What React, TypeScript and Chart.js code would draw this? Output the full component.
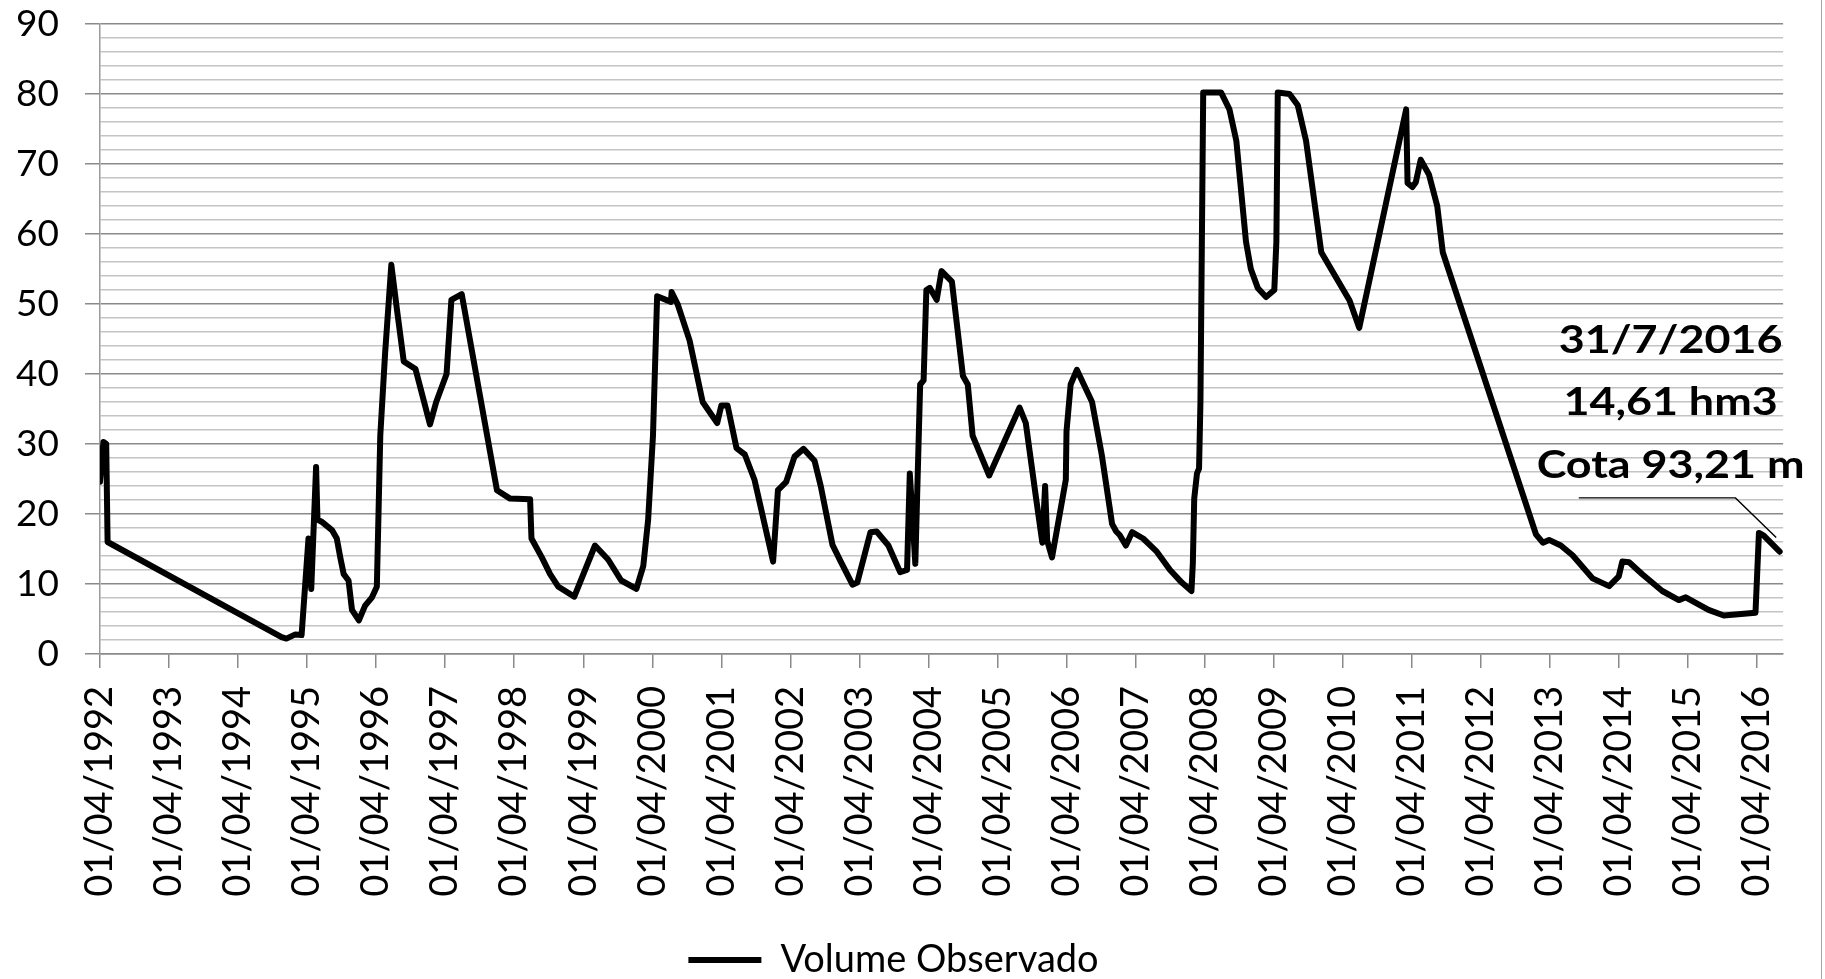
import { useEffect, useRef } from 'react'
import { Chart, registerables } from 'chart.js'

Chart.register(...registerables)

// observation time as decimal year, volume in hm3
const OBS_TIME = [
  1992.25, 1992.3, 1992.34, 1992.36, 1994.88, 1994.95, 1995.08, 1995.17, 1995.27, 1995.31,
  1995.34, 1995.38, 1995.4, 1995.46, 1995.61, 1995.68, 1995.73, 1995.78, 1995.85, 1995.9,
  1996.0, 1996.09, 1996.19, 1996.26, 1996.31, 1996.38, 1996.47, 1996.55, 1996.65, 1996.82,
  1997.03, 1997.12, 1997.27, 1997.34, 1997.49, 1998.0, 1998.19, 1998.48, 1998.5, 1998.65,
  1998.77, 1998.89, 1999.12, 1999.42, 1999.61, 1999.8, 2000.02, 2000.12, 2000.19, 2000.26,
  2000.32, 2000.52, 2000.53, 2000.62, 2000.79, 2000.98, 2001.19, 2001.25, 2001.34, 2001.47,
  2001.59, 2001.73, 2002.0, 2002.07, 2002.19, 2002.31, 2002.44, 2002.6, 2002.69, 2002.86,
  2002.98, 2003.15, 2003.22, 2003.41, 2003.5, 2003.67, 2003.84, 2003.94, 2003.98, 2004.06,
  2004.13, 2004.18, 2004.22, 2004.27, 2004.37, 2004.44, 2004.59, 2004.75, 2004.82, 2004.89,
  2005.13, 2005.57, 2005.66, 2005.81, 2005.9, 2005.94, 2005.97, 2006.04, 2006.24, 2006.25,
  2006.31, 2006.4, 2006.62, 2006.76, 2006.91, 2006.97, 2007.02, 2007.11, 2007.2, 2007.36,
  2007.55, 2007.75, 2007.92, 2008.06, 2008.08, 2008.1, 2008.14, 2008.17, 2008.19, 2008.23,
  2008.49, 2008.61, 2008.71, 2008.85, 2008.92, 2009.02, 2009.14, 2009.26, 2009.29, 2009.31,
  2009.48, 2009.6, 2009.72, 2009.94, 2010.35, 2010.49, 2011.17, 2011.19, 2011.26, 2011.31,
  2011.38, 2011.5, 2011.62, 2011.7, 2013.05, 2013.15, 2013.24, 2013.41, 2013.58, 2013.87,
  2014.11, 2014.25, 2014.3, 2014.4, 2014.59, 2014.88, 2015.12, 2015.22, 2015.55, 2015.77,
  2016.23, 2016.28, 2016.35, 2016.58,
]

const OBS_VOLUME = [
  24.6, 30.3, 30.0, 16.0, 2.4, 2.2, 2.8, 2.7, 16.5, 9.3,
  16.8, 26.7, 19.2, 18.9, 17.7, 16.5, 13.8, 11.4, 10.5, 6.3,
  4.8, 6.9, 8.1, 9.6, 31.2, 43.0, 55.6, 49.3, 41.8, 40.7,
  32.8, 36.0, 40.0, 50.6, 51.4, 23.4, 22.2, 22.1, 16.5, 13.8,
  11.4, 9.6, 8.2, 15.5, 13.5, 10.5, 9.3, 12.6, 19.2, 31.2,
  51.1, 50.3, 51.7, 49.9, 44.8, 36.0, 33.0, 35.5, 35.5, 29.4,
  28.5, 24.9, 13.2, 23.4, 24.6, 28.2, 29.3, 27.6, 24.0, 15.6,
  13.2, 9.9, 10.2, 17.4, 17.5, 15.5, 11.7, 12.0, 25.8, 12.9,
  38.5, 39.1, 52.0, 52.3, 50.6, 54.7, 53.2, 39.7, 38.5, 31.2,
  25.5, 35.2, 33.0, 22.2, 15.9, 24.0, 16.2, 13.8, 24.9, 31.8,
  38.5, 40.6, 36.0, 28.5, 18.6, 17.5, 17.0, 15.5, 17.4, 16.5,
  14.7, 12.0, 10.2, 9.0, 13.0, 22.2, 25.8, 26.5, 36.0, 80.2,
  80.2, 77.8, 73.3, 58.9, 55.0, 52.3, 51.0, 52.0, 58.9, 80.2,
  80.0, 78.4, 73.3, 57.4, 50.5, 46.6, 77.8, 67.3, 66.7, 67.4,
  70.6, 68.5, 64.0, 57.4, 17.1, 15.9, 16.3, 15.5, 14.1, 10.8,
  9.7, 11.1, 13.2, 13.1, 11.4, 9.0, 7.7, 8.1, 6.3, 5.5,
  5.9, 17.3, 16.9, 14.61,
]

const TICK_LABELS = [
  '01/04/1992', '01/04/1993', '01/04/1994', '01/04/1995', '01/04/1996',
  '01/04/1997', '01/04/1998', '01/04/1999', '01/04/2000', '01/04/2001',
  '01/04/2002', '01/04/2003', '01/04/2004', '01/04/2005', '01/04/2006',
  '01/04/2007', '01/04/2008', '01/04/2009', '01/04/2010', '01/04/2011',
  '01/04/2012', '01/04/2013', '01/04/2014', '01/04/2015', '01/04/2016',
]

const SERIES_LABEL = 'Volume Observado'

// callout for the last reading
const NOTE_LINES = ['31/7/2016', '14,61 hm3', 'Cota 93,21 m']
const NOTE_X = 2015.0
const NOTE_Y = [44.8, 36.0, 26.9]
const LEADER_X = [2013.67, 2015.94, 2016.53]
const LEADER_Y = [22.3, 22.3, 16.65]

const X_MIN = 1992.25
const X_MAX = 2016.63

const MAJOR = '#8a8a8a'
const MINOR = '#c4c4c4'

const notePlugin = {
  id: 'note',
  afterDatasetsDraw(chart: any) {
    const { ctx, scales } = chart
    const x = scales.x
    const y = scales.y
    ctx.save()
    ctx.strokeStyle = '#000'
    ctx.lineWidth = 1.4
    ctx.beginPath()
    LEADER_X.forEach((v, i) => {
      const px = x.getPixelForValue(v)
      const py = y.getPixelForValue(LEADER_Y[i])
      if (i === 0) ctx.moveTo(px, py)
      else ctx.lineTo(px, py)
    })
    ctx.stroke()
    ctx.fillStyle = '#000'
    ctx.font = 'bold 39px Lato'
    ctx.textAlign = 'center'
    ctx.textBaseline = 'middle'
    NOTE_LINES.forEach((t, i) => {
      ctx.save()
      ctx.translate(x.getPixelForValue(NOTE_X), y.getPixelForValue(NOTE_Y[i]))
      ctx.scale(1.15, 1)
      ctx.fillText(t, 0, 0)
      ctx.restore()
    })
    ctx.restore()
  },
}

export default function App() {
  const canvasRef = useRef<HTMLCanvasElement>(null)
  const chartRef = useRef<Chart | null>(null)

  useEffect(() => {
    document.body.style.margin = '0'
    if (!canvasRef.current) return

    if (chartRef.current) {
      chartRef.current.destroy()
    }

    Chart.defaults.font.family = 'Lato'
    Chart.defaults.color = '#000'

    chartRef.current = new Chart(canvasRef.current, {
      type: 'line',
      data: {
        datasets: [{
          label: SERIES_LABEL,
          data: OBS_TIME.map((t, i) => ({ x: t, y: OBS_VOLUME[i] })),
          borderColor: '#000',
          backgroundColor: '#000',
          borderWidth: 6,
          borderJoinStyle: 'round',
          borderCapStyle: 'round',
          pointRadius: 0,
          tension: 0,
        }],
      },
      options: {
        animation: false,
        responsive: true,
        maintainAspectRatio: false,
        layout: { padding: { top: 24, right: 34, left: 0, bottom: -10 } },
        scales: {
          x: {
            type: 'linear',
            min: X_MIN,
            max: X_MAX,
            afterBuildTicks: (scale: any) => {
              scale.ticks = TICK_LABELS.map((_, i) => ({ value: X_MIN + i }))
            },
            afterFit: (scale: any) => {
              scale.height = 277
            },
            grid: {
              drawOnChartArea: false,
              drawTicks: true,
              tickLength: 14,
              color: MAJOR,
              lineWidth: 1.5,
            },
            border: { color: MAJOR, width: 1.5 },
            ticks: {
              autoSkip: false,
              minRotation: 90,
              maxRotation: 90,
              padding: 18,
              font: { size: 38 },
              callback: (_v: any, i: number) => TICK_LABELS[i],
            },
          },
          y: {
            min: 0,
            max: 90,
            afterFit: (scale: any) => {
              scale.width = 100
              // the label padding is not wanted above the plot
              scale.paddingTop = 0
              scale.paddingBottom = 0
            },
            grid: {
              tickLength: 15,
              lineWidth: 1.5,
              color: (c: any) => (c.tick && c.tick.value % 10 === 0 ? MAJOR : MINOR),
              tickColor: (c: any) => (c.tick && c.tick.value % 10 === 0 ? MAJOR : 'rgba(0,0,0,0)'),
            },
            border: { color: '#9a9a9a', width: 1.5 },
            ticks: {
              stepSize: 2,
              autoSkip: false,
              padding: 26,
              font: { size: 37 },
              callback: (v: any) => (Number(v) % 10 === 0 ? String(v) : ''),
            },
          },
        },
        plugins: {
          legend: {
            position: 'bottom',
            labels: {
              usePointStyle: true,
              pointStyle: 'line',
              pointStyleWidth: 73,
              padding: 10,
              font: { size: 38 },
              color: '#000',
            },
          },
          tooltip: { enabled: false },
        },
      },
      plugins: [notePlugin],
    })

    return () => {
      if (chartRef.current) {
        chartRef.current.destroy()
        chartRef.current = null
      }
    }
  }, [])

  return (
    <div style={{ width: 1821, height: 979, borderRight: '1.5px solid #a6a6a6', overflow: 'hidden' }}>
      <div style={{ position: 'relative', width: 1821, height: 979 }}>
        <canvas ref={canvasRef} />
      </div>
    </div>
  )
}
